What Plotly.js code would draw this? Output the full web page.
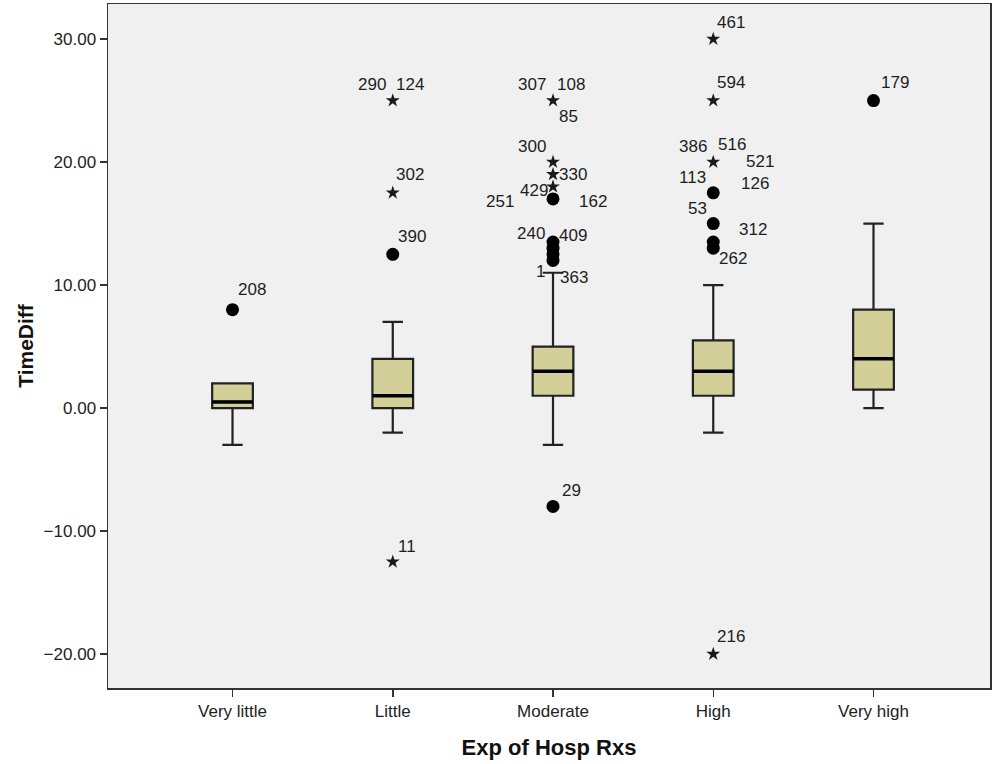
<!DOCTYPE html>
<html>
<head>
<meta charset="utf-8">
<script src="https://cdn.plot.ly/plotly-3.0.1.min.js"></script>
<style>html,body{margin:0;padding:0;background:#fff;}#chart{width:992px;height:764px;}</style>
</head>
<body>
<div id="chart"></div>
<script>
// ---- data ----
const categories = ['Very little', 'Little', 'Moderate', 'High', 'Very high'];
const q1Values = [0, 0, 1, 1, 1.5];
const medianValues = [0.5, 1, 3, 3, 4];
const q3Values = [2, 4, 5, 5.5, 8];
const lowerWhisker = [-3, -2, -3, -2, 0];
const upperWhisker = [2, 7, 11, 10, 15];

// outliers (circles) and extreme values (stars): category index + value
const outlierCat = [0, 1, 2, 2, 2, 2, 2, 2, 3, 3, 3, 3, 4];
const outlierValue = [8, 12.5, 17, 13.5, 13, 12.5, 12, -8, 17.5, 15, 13.5, 13, 25];
const extremeCat = [1, 1, 1, 2, 2, 2, 2, 3, 3, 3, 3];
const extremeValue = [25, 17.5, -12.5, 25, 20, 19, 18, 30, 25, 20, -20];

// case labels attached to the plotted points
const labelText = ['208', '290', '124', '302', '390', '11', '307', '108', '85', '300', '330', '429', '251', '162', '240', '409', '1', '363', '29', '461', '594', '386', '516', '521', '113', '126', '53', '312', '262', '216', '179'];
const labelCat = [0, 1, 1, 1, 1, 1, 2, 2, 2, 2, 2, 2, 2, 2, 2, 2, 2, 2, 2, 3, 3, 3, 3, 3, 3, 3, 3, 3, 3, 3, 4];
const labelValue = [8, 25, 25, 17.5, 12.5, -12.5, 25, 25, 25, 20, 19, 18, 17, 17, 13.5, 13.5, 12, 12, -8, 30, 25, 20, 20, 20, 17.5, 17.5, 15, 13.5, 13, -20, 25];

// ---- label placement (pixel offsets, styling only) ----
const labelDx = [19, -21, 17, 17, 19, 14, -21, 18, 15, -21, 20, -19, -53, 40, -22, 20, -13, 21, 18, 18, 18, -20, 19, 47, -21, 42, -16, 40, 20, 18, 21];
const labelDy = [20, 16, 16, 18, 18, 15, 16, 16, -16, 16, 0, -4, -3, -3, 9, 7, -11, -17, 16, 17, 18, 16, 18, 1, 15, 9, 15, 13, -10, 18, 18];

const FONT = 'Liberation Sans, Arial, sans-serif';
const boxWidth = 0.254;
const positions = categories.map((c, i) => i);

const boxTrace = {
  type: 'box',
  x: positions,
  q1: q1Values,
  median: medianValues,
  q3: q3Values,
  lowerfence: lowerWhisker,
  upperfence: upperWhisker,
  width: boxWidth,
  whiskerwidth: 0.5,
  boxpoints: false,
  fillcolor: '#d3cf98',
  line: {color: '#222', width: 2.2},
  hoverinfo: 'skip',
  showlegend: false
};

const medX = [], medY = [];
positions.forEach((p, i) => {
  medX.push(p - boxWidth / 2, p + boxWidth / 2, null);
  medY.push(medianValues[i], medianValues[i], null);
});
const medianTrace = {
  type: 'scatter', mode: 'lines', x: medX, y: medY,
  line: {color: '#000', width: 3.5}, hoverinfo: 'skip', showlegend: false
};

const circleTrace = {
  type: 'scatter', mode: 'markers', x: outlierCat, y: outlierValue,
  marker: {symbol: 'circle', size: 13, color: '#000'},
  hoverinfo: 'skip', showlegend: false
};
const starTrace = {
  type: 'scatter', mode: 'markers', x: extremeCat, y: extremeValue,
  marker: {symbol: 'star', size: 10.5, color: '#1a1a1a', line: {width: 0}},
  hoverinfo: 'skip', showlegend: false
};

const annotations = labelText.map((t, i) => ({
  x: labelCat[i], y: labelValue[i], xref: 'x', yref: 'y',
  text: t, showarrow: false, xanchor: 'center', yanchor: 'middle',
  xshift: labelDx[i], yshift: labelDy[i],
  font: {family: FONT, size: 17, color: '#1e1e1e'}
}));

const layout = {
  width: 992, height: 764,
  margin: {l: 108, r: 2, t: 4, b: 76},
  paper_bgcolor: '#ffffff',
  plot_bgcolor: '#f0f0f0',
  showlegend: false,
  annotations: annotations,
  xaxis: {
    range: [-0.777, 4.727],
    tickmode: 'array', tickvals: positions, ticktext: categories,
    ticks: 'outside', ticklen: 7, tickwidth: 1.5, tickcolor: '#333',
    showline: true, mirror: true, linecolor: '#333', linewidth: 1.5,
    showgrid: false, zeroline: false,
    tickfont: {family: FONT, size: 17, color: '#222'},
    title: {text: 'Exp of Hosp Rxs', standoff: 19,
      font: {family: FONT, size: 22, color: '#111', weight: 'bold'}}
  },
  yaxis: {
    range: [-22.76, 32.85],
    tickmode: 'linear', tick0: 0, dtick: 10, tickformat: '.2f',
    ticks: 'outside', ticklen: 7, tickwidth: 1.5, tickcolor: '#333',
    showline: true, mirror: true, linecolor: '#333', linewidth: 1.5,
    showgrid: false, zeroline: false,
    tickfont: {family: FONT, size: 17, color: '#222'},
    title: {text: 'TimeDiff', standoff: 4,
      font: {family: FONT, size: 21, color: '#111', weight: 'bold'}}
  }
};

Plotly.newPlot('chart', [boxTrace, medianTrace, circleTrace, starTrace], layout, {displayModeBar: false, staticPlot: true});
</script>
</body>
</html>
